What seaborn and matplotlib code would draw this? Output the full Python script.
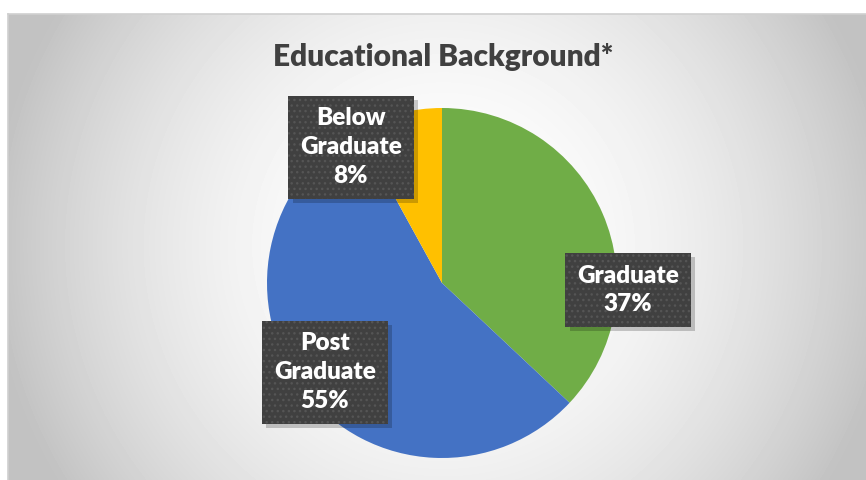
import matplotlib.pyplot as plt
import matplotlib.patheffects as pe
import numpy as np
import seaborn as sns

CATEGORIES = ["Graduate", "Post\nGraduate", "Below\nGraduate"]
SHARES = [37, 55, 8]
COLORS = ["#70AD47", "#4472C4", "#FFC000"]
TITLE = "Educational Background*"

# label box centres, in pie-radius units
LABEL_POS = [(1.063, -0.04), (-0.669, -0.509), (-0.52, 0.777)]

W, H = 866, 480
CX, CY, R = 442, 283, 175  # pie centre / radius in pixels


def draw_background(fig):
    left, top = 8, 14
    bg = fig.add_axes([left / W, 0, (W - left) / W, (H - top) / H])
    yy, xx = np.mgrid[top:H, left:W]
    r = np.hypot(xx - 443, yy - 245)
    shade = np.clip(1 - 0.22 * (r / 433) ** 2, 0.76, 1.0)
    bg.imshow(shade, cmap="gray", vmin=0, vmax=1, aspect="auto",
              extent=(0, 1, 0, 1), interpolation="bilinear")
    bg.set_xticks([])
    bg.set_yticks([])
    for side in ["right", "bottom"]:
        bg.spines[side].set_visible(False)
    for side in ["left", "top"]:
        bg.spines[side].set_color("#d0d0d0")
        bg.spines[side].set_linewidth(1.2)
    return bg


def main():
    sns.set_theme(style="white")
    plt.rcParams["font.family"] = ["Lato", "DejaVu Sans"]
    plt.rcParams["hatch.linewidth"] = 1.0

    fig = plt.figure(figsize=(W / 100, H / 100), dpi=100)
    fig.patch.set_facecolor("white")
    draw_background(fig)

    ax = fig.add_axes([0, 0, 1, 1])
    ax.patch.set_alpha(0)
    wedges, _ = ax.pie(
        SHARES,
        colors=COLORS,
        startangle=90,
        counterclock=False,
        radius=1,
        wedgeprops=dict(linewidth=0),
    )
    ax.set_xlim(-CX / R, (W - CX) / R)
    ax.set_ylim((CY - H) / R, CY / R)
    ax.set_aspect("auto")
    ax.axis("off")

    text_kw = dict(ha="center", va="center", fontsize=17.5,
                   fontweight="heavy", linespacing=1.38)
    for name, share, (x, y) in zip(CATEGORIES, SHARES, LABEL_POS):
        label = f"{name}\n{share}%"
        # solid box with soft shadow
        base = ax.text(x, y, label, color="none",
                       bbox=dict(boxstyle="square,pad=0.48", fc="#404040",
                                 lw=0), **text_kw)
        base.get_bbox_patch().set_path_effects(
            [pe.SimplePatchShadow(offset=(3, -3), shadow_rgbFace="#000000",
                                  alpha=0.2), pe.Normal()]
        )
        # dotted texture + white text on top
        ax.text(x, y, label, color="white",
                bbox=dict(boxstyle="square,pad=0.48", fc="none",
                          ec="#555555", lw=0, hatch="..."), **text_kw)

    fig.text(443 / W, 1 - 57 / H, TITLE, ha="center", va="center",
             fontsize=21.5, fontweight="heavy", color="#404040")

    fig.savefig("out.png", dpi=100)


if __name__ == "__main__":
    main()
